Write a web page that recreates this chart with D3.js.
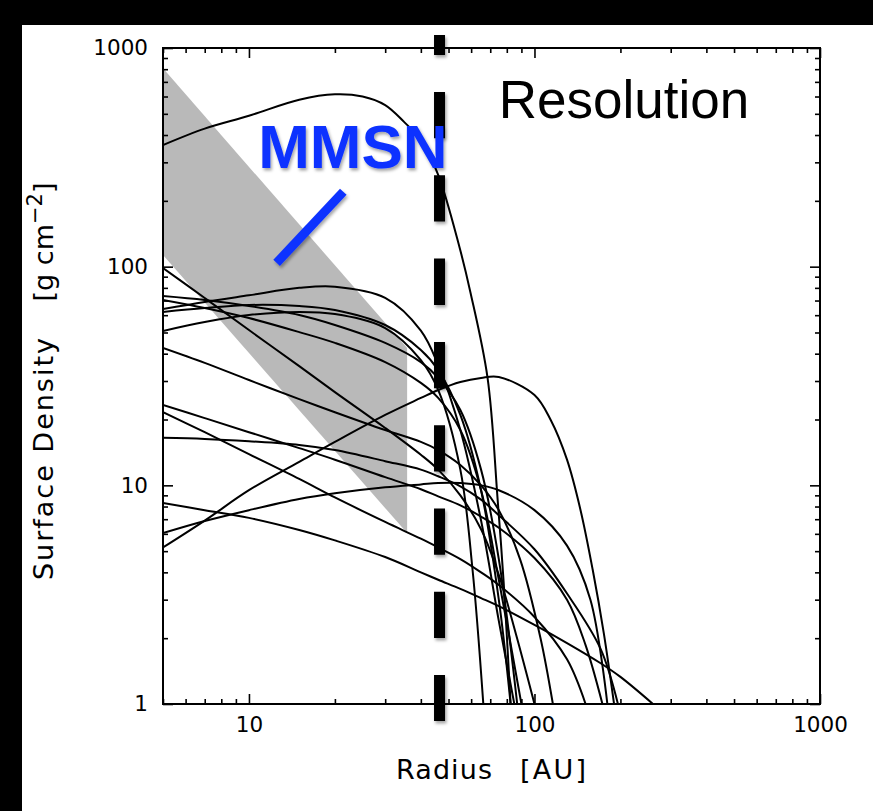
<!DOCTYPE html>
<html><head><meta charset="utf-8">
<script src="https://cdn.jsdelivr.net/npm/d3@7"></script>
<style>html,body{margin:0;padding:0;background:#000;} svg{display:block} text{white-space:pre}</style>
</head><body>
<svg id="c" width="873" height="811"></svg>
<script>
// ---- data ----
const radiusMajor = [10, 100, 1000];
const densityMajor = [1, 10, 100, 1000];
const mmsnRadius = [5, 35.8];
const mmsnUpper = [807, 42.5];
const mmsnLower = [113, 6.05];
const resolutionRadius = 46.5;

const rA = [5,7,10,15,20,25,30,35,40,46,54.6,59.7,68.5,74.3,78,82.5];
const sA = [360,428,490,580,614,600,548,458,380,263,123,76,31,8.6,3.6,1];
const rB = [5,7,10,15,20,30,40,46,55,65,75,85];
const sB = [64,69,74,80,81,72,51,35.5,17.9,6.9,2.4,1];
const rC = [5,7,10,15,20,30,40,46,55,65,75,87];
const sC = [73.4,70.4,66.1,60.1,54.1,44.8,36.6,31,22.1,11.8,4.6,1];
const rD = [5,7,10,15,20,30,40,46,55,65,75,90];
const sD = [70.4,64.7,58.2,50.2,44.8,36.6,29.4,25.1,17.9,9.5,3.7,1];
const rE = [5,7,10,15,20,30,40,46,55,60.7,66.2];
const sE = [50.8,55.8,60.1,62.1,60.7,52.4,37.4,27.3,11.8,4.1,1];
const rP = [5,7,10,15,20,30,40,46,55,65,75,82.5];
const sP = [62.1,64.7,66.8,66.1,63.4,54.1,41.6,33.7,21,9.5,3,1];
const rS = [5,7,10,15,20,30,40,46,55,65,75,86,100];
const sS = [98.6,71.9,51.3,35.1,26.7,18.3,13.8,11.8,9.0,6.3,3.9,2.1,1];
const rK = [5,7,10,15,20,30,40,46,55,65,75,89,105,116];
const sK = [42.5,36.3,30.3,24.8,21.6,17.9,15.8,14.5,12.4,10,7.7,4.6,2,1];
const rL = [5,7,10,15,20,30,40,46,55,65,75,100,130,151,173];
const sL = [23.3,20.3,17.5,14.8,13.1,10.9,9.6,8.9,8.1,7.2,6.4,4.65,3.0,1.86,1];
const rM = [5,7,10,15,20,30,40,46,55,65,75,100,130,151];
const sM = [21.6,17.5,13.9,10.7,8.8,6.8,5.7,5.2,4.6,4.0,3.5,2.5,1.6,1];
const rN = [5,7,10,15,20,30,40,46,55,65,75,100,130,170,196];
const sN = [16.5,16.3,15.9,15.3,14.5,12.9,11.8,11,9.9,8.6,7.3,5.1,3.2,1.8,1];
const rH = [5,7,10,15,20,30,40,46,55,65,75,100,130,170,200,260];
const sH = [8.3,7.7,7.1,6.25,5.6,4.7,4.0,3.7,3.36,3.05,2.8,2.3,1.9,1.54,1.33,1];
const rG = [5,7,10,15,20,30,40,46,55,65,75,100,130,157,180];
const sG = [6.05,6.87,7.7,8.66,9.2,9.8,10.1,10.25,10.25,10.0,9.5,7.7,5.3,3.0,1];
const rF = [5,7,10,15,20,30,40,46,55,65,75,100,114,130,145,160,175,190];
const sF = [5.2,6.9,9.5,12.8,15.8,21,25.1,27.3,29.7,31,31.3,25.9,19.9,13.1,7.7,4.1,2.1,1];

const profiles = [[rA,sA],[rB,sB],[rC,sC],[rD,sD],[rE,sE],[rP,sP],[rS,sS],[rK,sK],[rL,sL],[rM,sM],[rN,sN],[rH,sH],[rG,sG],[rF,sF]];

// ---- layout ----
const W = 873, H = 811;
const plot = {l:163, r:820, t:48, b:704};
const svg = d3.select("#c");
const FONT = "'DejaVu Sans', 'Noto Sans', sans-serif";

svg.append("rect").attr("width",W).attr("height",H).attr("fill","#000");
svg.append("rect").attr("x",22).attr("y",25).attr("width",W-22).attr("height",H-25).attr("fill","#fff");

const defs = svg.append("defs");
defs.append("clipPath").attr("id","clip").append("rect")
  .attr("x",plot.l).attr("y",plot.t).attr("width",plot.r-plot.l).attr("height",plot.b-plot.t);
const f = defs.append("filter").attr("id","shadow").attr("filterUnits","userSpaceOnUse")
  .attr("x",0).attr("y",0).attr("width",W).attr("height",H);
f.append("feDropShadow").attr("dx",1.5).attr("dy",2.5).attr("stdDeviation",1.8).attr("flood-color","#000").attr("flood-opacity",0.35);

const x = d3.scaleLog().domain([5,1000]).range([plot.l, plot.r]);
const y = d3.scaleLog().domain([1,1000]).range([plot.b, plot.t]);

// MMSN band
const band = mmsnRadius.map((r,i)=>[x(r), y(mmsnUpper[i])])
  .concat(mmsnRadius.slice().reverse().map((r,i)=>[x(r), y(mmsnLower[mmsnLower.length-1-i])]));
svg.append("path").attr("clip-path","url(#clip)")
  .attr("d", d3.line()(band)+"Z").attr("fill","#b9b9b9");

// profiles
const line = d3.line().x(d=>x(d[0])).y(d=>y(d[1])).curve(d3.curveCatmullRom.alpha(0.5));
const g = svg.append("g").attr("clip-path","url(#clip)");
profiles.forEach(([rr,ss])=>{
  g.append("path").attr("d", line(rr.map((r,i)=>[r, ss[i]])))
   .attr("fill","none").attr("stroke","#000").attr("stroke-width",2);
});

// axes
function minorTicks(dom){
  const out=[];
  for(let e=Math.floor(Math.log10(dom[0])); e<Math.log10(dom[1]); e++)
    for(let k=2;k<10;k++){const v=k*Math.pow(10,e); if(v>=dom[0]&&v<=dom[1]) out.push(v);}
  return out;
}
const xMinor = minorTicks([5,1000]), yMinor = minorTicks([1,1000]);
function styleAxis(sel){
  sel.select(".domain").remove();
  sel.selectAll(".tick line").attr("stroke","#000").attr("stroke-width",1.6);
  sel.selectAll("text").attr("font-family",FONT).attr("font-size",21.5).attr("fill","#000");
}
const fmt = d=>String(d);
svg.append("g").attr("transform",`translate(0,${plot.b})`)
  .call(d3.axisBottom(x).tickValues(radiusMajor).tickFormat(fmt).tickSizeInner(-10).tickSizeOuter(0).tickPadding(13)).call(styleAxis);
svg.append("g").attr("transform",`translate(0,${plot.b})`)
  .call(d3.axisBottom(x).tickValues(xMinor).tickFormat("").tickSizeInner(-5).tickSizeOuter(0)).call(styleAxis);
svg.append("g").attr("transform",`translate(0,${plot.t})`)
  .call(d3.axisTop(x).tickValues(radiusMajor).tickFormat("").tickSizeInner(-10).tickSizeOuter(0)).call(styleAxis);
svg.append("g").attr("transform",`translate(0,${plot.t})`)
  .call(d3.axisTop(x).tickValues(xMinor).tickFormat("").tickSizeInner(-5).tickSizeOuter(0)).call(styleAxis);
svg.append("g").attr("transform",`translate(${plot.l},0)`)
  .call(d3.axisLeft(y).tickValues(densityMajor).tickFormat(fmt).tickSizeInner(-10).tickSizeOuter(0).tickPadding(15)).call(styleAxis);
svg.append("g").attr("transform",`translate(${plot.l},0)`)
  .call(d3.axisLeft(y).tickValues(yMinor).tickFormat("").tickSizeInner(-5).tickSizeOuter(0)).call(styleAxis);
svg.append("g").attr("transform",`translate(${plot.r},0)`)
  .call(d3.axisRight(y).tickValues(densityMajor).tickFormat("").tickSizeInner(-10).tickSizeOuter(0)).call(styleAxis);
svg.append("g").attr("transform",`translate(${plot.r},0)`)
  .call(d3.axisRight(y).tickValues(yMinor).tickFormat("").tickSizeInner(-5).tickSizeOuter(0)).call(styleAxis);

svg.append("rect").attr("x",plot.l).attr("y",plot.t).attr("width",plot.r-plot.l).attr("height",plot.b-plot.t)
  .attr("fill","none").attr("stroke","#000").attr("stroke-width",2);

// axis titles
const TS = 27;
svg.append("text").attr("x",444).attr("y",779).attr("text-anchor","middle")
  .attr("font-family",FONT).attr("font-size",TS).attr("textLength",96).attr("lengthAdjust","spacing").text("Radius");
svg.append("text").attr("x",553).attr("y",779).attr("text-anchor","middle")
  .attr("font-family",FONT).attr("font-size",TS).attr("textLength",66).attr("lengthAdjust","spacing").text("[AU]");
svg.append("text").attr("transform",`translate(53,459) rotate(-90)`).attr("text-anchor","middle")
  .attr("font-family",FONT).attr("font-size",TS).attr("textLength",242).attr("lengthAdjust","spacing").text("Surface Density");
const yt = svg.append("text").attr("transform",`translate(53,242) rotate(-90)`)
  .attr("text-anchor","middle").attr("font-family",FONT).attr("font-size",TS);
yt.append("tspan").text("[g cm");
yt.append("tspan").attr("dy",-11).attr("font-size",21).text("−2");
yt.append("tspan").attr("dy",11).text("]");

// resolution dashed line
svg.append("line").attr("x1",x(resolutionRadius)).attr("x2",x(resolutionRadius))
  .attr("y1",35).attr("y2",721).attr("stroke","#000").attr("stroke-width",11)
  .attr("stroke-dasharray","46.3 37").attr("stroke-dashoffset",26.3).attr("filter","url(#shadow)");

// annotations
svg.append("text").attr("x",x(75)).attr("y",y(478)).attr("font-family","'Liberation Sans', Arial, sans-serif")
  .attr("font-size",53).attr("fill","#000").text("Resolution");
svg.append("text").attr("x",x(10.77)).attr("y",y(283)).attr("font-family","'Liberation Sans', Arial, sans-serif")
  .attr("font-weight","bold").attr("font-size",62).attr("fill","#0d33ff").attr("filter","url(#shadow)").text("MMSN");
svg.append("line").attr("x1",x(12.5)).attr("y1",y(104)).attr("x2",x(21.4)).attr("y2",y(220))
  .attr("stroke","#0d33ff").attr("stroke-width",9).attr("filter","url(#shadow)");
</script>
</body></html>
